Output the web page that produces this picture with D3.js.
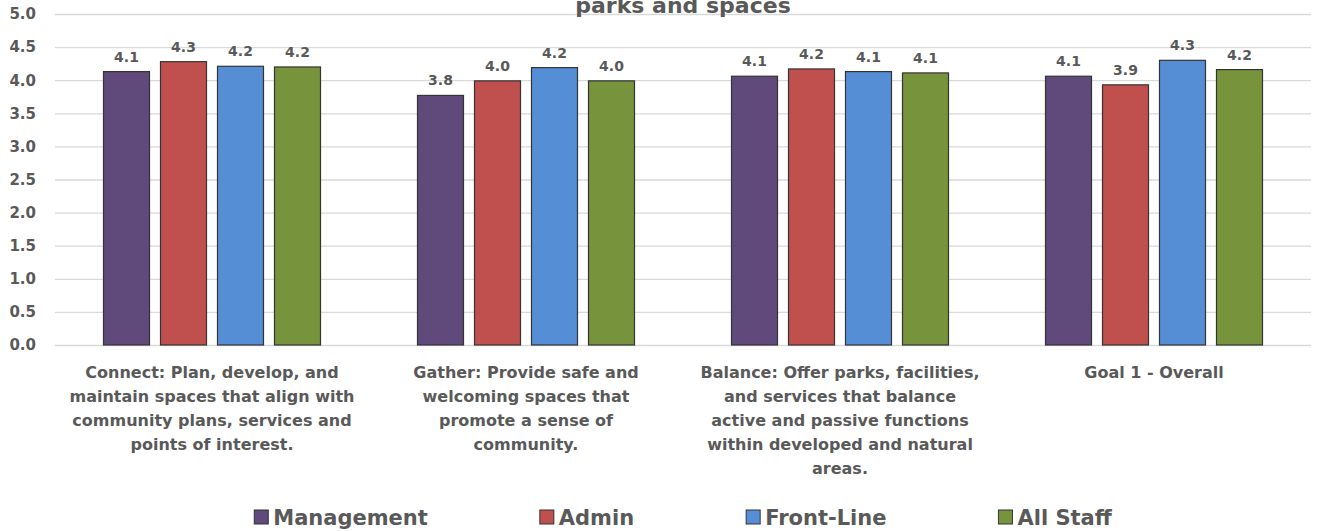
<!DOCTYPE html>
<html>
<head>
<meta charset="utf-8">
<script src="https://cdn.jsdelivr.net/npm/d3@7"></script>
<style>
  body { margin: 0; background: #fff; }
  text { font-family: "DejaVu Sans", sans-serif; font-weight: bold; fill: #595959; }
</style>
</head>
<body>
<div id="chart"></div>
<script>
// data
var titleText = "parks and spaces";

var categories = [
    ["Connect: Plan, develop, and", "maintain spaces that align with", "community plans, services and", "points of interest."],
    ["Gather: Provide safe and", "welcoming spaces that", "promote a sense of", "community."],
    ["Balance: Offer parks, facilities,", "and services that balance", "active and passive functions", "within developed and natural", "areas."],
    ["Goal 1 - Overall"]
];

var seriesNames = ["Management", "Admin", "Front-Line", "All Staff"];
var management = [4.13, 3.77, 4.06, 4.06];
var admin      = [4.28, 3.99, 4.17, 3.93];
var frontLine  = [4.21, 4.19, 4.13, 4.30];
var allStaff   = [4.20, 3.99, 4.11, 4.16];
var yTicks = [0, 0.5, 1, 1.5, 2, 2.5, 3, 3.5, 4, 4.5, 5];

var colors = ["#604A7B", "#C0504D", "#558ED5", "#77933C"];

// svg params
var svgWidth = 1317, svgHeight = 531;
var margin = {top: 14, right: 6, bottom: 186, left: 55};
var chartWidth = svgWidth - margin.left - margin.right;
var chartHeight = svgHeight - margin.top - margin.bottom;

var svg = d3.select("#chart").append("svg")
    .attr("width", svgWidth)
    .attr("height", svgHeight);

var g = svg.append("g")
    .attr("transform", `translate(${margin.left}, ${margin.top})`);

// scales
var x0 = d3.scaleBand()
    .domain(d3.range(categories.length))
    .range([0, chartWidth])
    .padding(0);

var x1 = d3.scaleBand()
    .domain(seriesNames)
    .range([0, x0.bandwidth()])
    .paddingInner(0.193)
    .paddingOuter(0.851);

var y = d3.scaleLinear().domain([0, 5]).range([chartHeight, 0]);

// gridlines + y labels
var yAxis = d3.axisLeft(y)
    .tickValues(yTicks)
    .tickFormat(d3.format(".1f"))
    .tickSize(-chartWidth)
    .tickPadding(19);

var yAxisG = g.append("g").call(yAxis);
yAxisG.select(".domain").remove();
yAxisG.selectAll("line").attr("stroke", "#D9D9D9").attr("stroke-width", 1.3);
yAxisG.selectAll("text").style("font-size", "15px").attr("fill", "#595959");

// rows of values
var rows = categories.map(function(c, i) {
    return [management[i], admin[i], frontLine[i], allStaff[i]].map(function(v, j) {
        return {series: seriesNames[j], value: v, color: colors[j]};
    });
});

var groups = g.selectAll(".grp")
    .data(rows)
    .enter()
    .append("g")
    .attr("class", "grp")
    .attr("transform", (d, i) => `translate(${x0(i)},0)`);

groups.selectAll("rect")
    .data(d => d)
    .enter()
    .append("rect")
    .attr("x", d => x1(d.series))
    .attr("y", d => y(d.value))
    .attr("width", x1.bandwidth())
    .attr("height", d => chartHeight - y(d.value))
    .attr("fill", d => d.color)
    .attr("stroke", "#333")
    .attr("stroke-width", 1.2);

groups.selectAll(".val")
    .data(d => d)
    .enter()
    .append("text")
    .attr("class", "val")
    .attr("x", d => x1(d.series) + x1.bandwidth() / 2)
    .attr("y", d => y(d.value) - 10)
    .attr("text-anchor", "middle")
    .style("font-size", "14px")
    .text(d => d.value.toFixed(1));

// category labels
categories.forEach(function(lines, i) {
    var t = g.append("text")
        .attr("text-anchor", "middle")
        .attr("transform", `translate(${x0(i) + x0.bandwidth() / 2}, ${chartHeight + 33})`)
        .style("font-size", "16px");
    lines.forEach(function(line, k) {
        t.append("tspan").attr("x", 0).attr("y", k * 24).text(line);
    });
});

// title (partly cut off above the chart, like the original)
svg.append("text")
    .attr("x", margin.left + chartWidth / 2)
    .attr("y", 13)
    .attr("text-anchor", "middle")
    .style("font-size", "22px")
    .text(titleText);

// legend
var legend = svg.append("g");
var lx = 0, gap = 112, sq = 14;
seriesNames.forEach(function(name, i) {
    var item = legend.append("g").attr("transform", `translate(${lx},0)`);
    item.append("rect")
        .attr("x", 0).attr("y", -sq / 2)
        .attr("width", sq).attr("height", sq)
        .attr("fill", colors[i])
        .attr("stroke", "#333")
        .attr("stroke-width", 1);
    var txt = item.append("text")
        .attr("x", sq + 5)
        .attr("y", 7.5)
        .style("font-size", "21px")
        .text(name);
    lx += sq + 5 + txt.node().getComputedTextLength() + gap;
});
var legendWidth = lx - gap;
legend.attr("transform", `translate(${margin.left + chartWidth / 2 - legendWidth / 2}, 517)`);
</script>
</body>
</html>
